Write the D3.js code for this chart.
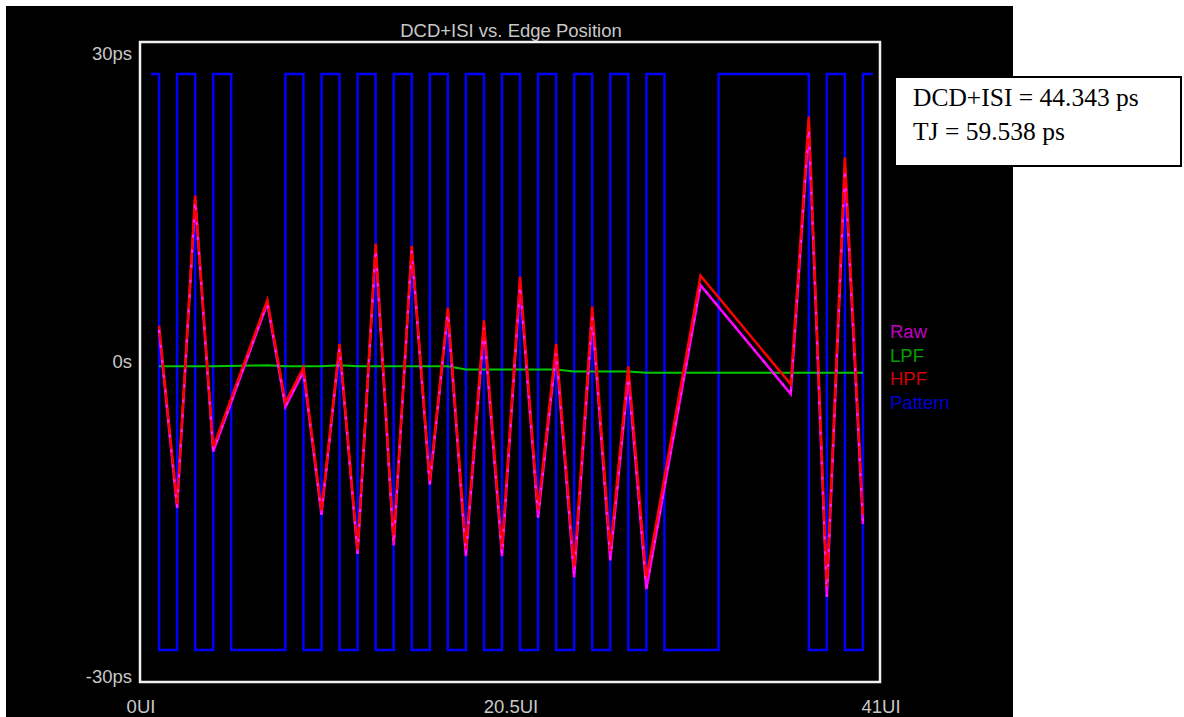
<!DOCTYPE html>
<html>
<head>
<meta charset="utf-8">
<script src="https://cdn.jsdelivr.net/npm/d3@7"></script>
<style>
  body { margin: 0; background: #ffffff; }
  svg { display: block; }
  text { font-family: "Liberation Sans", Arial, sans-serif; }
</style>
</head>
<body>
<div id="content"></div>
<script>
var width = 1184;
var height = 717;

// edge positions (UI) where the jitter points sit
var edgeUI = [1, 2, 3, 4, 7, 8, 9, 10, 11, 12, 13, 14, 15, 16, 17, 18, 19, 20,
              21, 22, 23, 24, 25, 26, 27, 28, 31, 36, 37, 38, 39, 40];
// DCD+ISI values in ps
var rawPs = [3.0, -13.7, 15.2, -8.4, 5.5, -4.2, -0.9, -14.3, 1.4, -18.0, 10.7, -17.2,
             10.5, -11.5, 4.7, -18.2, 3.2, -18.2, 7.3, -14.6, 1.0, -20.2, 4.3, -18.6,
             -1.3, -21.3, 7.2, -3.0, 22.0, -22.0, 18.2, -15.2];
var lpfPs = [-0.4, -0.4, -0.4, -0.4, -0.3, -0.4, -0.4, -0.4, -0.3, -0.4, -0.4, -0.4,
             -0.4, -0.4, -0.4, -0.7, -0.7, -0.7, -0.7, -0.7, -0.7, -0.9, -0.9, -0.9,
             -0.9, -1.0, -1.0, -1.0, -1.0, -1.0, -1.0, -1.0];
var hpfPs = [3.4, -13.3, 15.6, -8.0, 5.8, -3.8, -0.5, -13.9, 1.7, -17.6, 11.1, -16.8,
             10.9, -11.1, 5.1, -17.5, 3.9, -17.5, 8.0, -13.9, 1.7, -19.3, 5.2, -17.7,
             -0.4, -20.3, 8.1, -2.1, 23.0, -21.0, 19.2, -14.3];

// bit pattern: starts high, toggles at every edge
var patternStart = 0.55;
var patternEnd = 40.55;
var patternEdges = [1, 2, 3, 4, 5, 8, 9, 10, 11, 12, 13, 14, 15, 16, 17, 18, 19, 20,
                    21, 22, 23, 24, 25, 26, 27, 28, 29, 32, 37, 38, 39, 40];
var patternHigh = 27;
var patternLow = -27;

var xTicks = [0, 20.5, 41];
var xTickLabels = ["0UI", "20.5UI", "41UI"];
var yTicks = [30, 0, -30];
var yTickLabels = ["30ps", "0s", "-30ps"];

var legendNames = ["Raw", "LPF", "HPF", "Pattern"];
var legendColors = ["#c000c0", "#00a000", "#d00000", "#0000d0"];

var boxLines = ["DCD+ISI = 44.343 ps", "TJ = 59.538 ps"];

// plot frame (note: "top" is reserved on window, so prefixed names)
var plotLeft = 140, plotRight = 880, plotTop = 42, plotBottom = 682;

var x = d3.scaleLinear().domain([0, 41]).range([plotLeft + 1, plotRight + 1]);
var y = d3.scaleLinear().domain([-30, 30]).range([plotBottom, plotTop]);

var svg = d3.select('#content')
  .append('svg')
  .attr('width', width)
  .attr('height', height);

// black scope background
svg.append('rect')
  .attr('x', 6).attr('y', 6)
  .attr('width', 1007).attr('height', 711)
  .style('fill', '#000000');

// title
svg.append('text')
  .attr('x', (plotLeft + plotRight) / 2 + 1)
  .attr('y', 37)
  .attr('text-anchor', 'middle')
  .style('font-size', '18.5px')
  .style('fill', '#c8c8c8')
  .text('DCD+ISI vs. Edge Position');

// pattern as a step line
var patternPts = [[patternStart, patternHigh]];
var level = patternHigh;
patternEdges.forEach(function(e) {
  level = (level == patternHigh) ? patternLow : patternHigh;
  patternPts.push([e, level]);
});
patternPts.push([patternEnd, level]);

var stepLine = d3.line()
  .x(function(d) { return x(d[0]); })
  .y(function(d) { return y(d[1]); })
  .curve(d3.curveStepAfter);

svg.append('path')
  .datum(patternPts)
  .attr('d', stepLine)
  .style('fill', 'none')
  .style('stroke', '#0000ff')
  .style('stroke-width', 2.5);

var line = d3.line()
  .x(function(d) { return x(d[0]); })
  .y(function(d) { return y(d[1]); });

function pts(vals) {
  return edgeUI.map(function(u, i) { return [u, vals[i]]; });
}

// LPF
svg.append('path')
  .datum(pts(lpfPs))
  .attr('d', line)
  .style('fill', 'none')
  .style('stroke', '#00c800')
  .style('stroke-width', 2);

// Raw underneath, HPF on top, then raw dots peeking through
svg.append('path')
  .datum(pts(rawPs))
  .attr('d', line)
  .style('fill', 'none')
  .style('stroke', '#ff00ff')
  .style('stroke-width', 2.5);

svg.append('path')
  .datum(pts(hpfPs))
  .attr('d', line)
  .style('fill', 'none')
  .style('stroke', '#ff0000')
  .style('stroke-width', 2.5);

svg.append('path')
  .datum(pts(rawPs))
  .attr('d', line)
  .style('fill', 'none')
  .style('stroke', '#ff20ff')
  .style('stroke-width', 2)
  .style('stroke-dasharray', '3 12');

// frame
svg.append('rect')
  .attr('x', plotLeft).attr('y', plotTop)
  .attr('width', plotRight - plotLeft).attr('height', plotBottom - plotTop)
  .style('fill', 'none')
  .style('stroke', '#f0f0f0')
  .style('stroke-width', 2.5);

// y labels (kept inside frame height like the scope does)
svg.selectAll('text.ylab')
  .data(yTicks)
  .enter()
  .append('text')
  .attr('class', 'ylab')
  .attr('x', 132)
  .attr('y', function(d) {
    var p = y(d);
    return Math.min(Math.max(p, plotTop + 12), plotBottom - 5) + 6;
  })
  .attr('text-anchor', 'end')
  .style('font-size', '18.5px')
  .style('fill', '#c8c8c8')
  .text(function(d, i) { return yTickLabels[i]; });

// x labels
svg.selectAll('text.xlab')
  .data(xTicks)
  .enter()
  .append('text')
  .attr('class', 'xlab')
  .attr('x', function(d) { return x(d); })
  .attr('y', 713)
  .attr('text-anchor', 'middle')
  .style('font-size', '18.5px')
  .style('fill', '#c8c8c8')
  .text(function(d, i) { return xTickLabels[i]; });

// legend
svg.selectAll('text.leg')
  .data(legendNames)
  .enter()
  .append('text')
  .attr('class', 'leg')
  .attr('x', 890)
  .attr('y', function(d, i) { return 338 + i * 23.5; })
  .style('font-size', '18.5px')
  .style('fill', function(d, i) { return legendColors[i]; })
  .text(function(d) { return d; });

// result box
svg.append('rect')
  .attr('x', 895).attr('y', 77)
  .attr('width', 286).attr('height', 89)
  .style('fill', '#ffffff')
  .style('stroke', '#000000')
  .style('stroke-width', 2);

svg.selectAll('text.box')
  .data(boxLines)
  .enter()
  .append('text')
  .attr('class', 'box')
  .attr('x', 913)
  .attr('y', function(d, i) { return 106 + i * 34; })
  .style('font-family', '"Liberation Serif", "Times New Roman", serif')
  .style('font-size', '25.5px')
  .style('fill', '#000000')
  .text(function(d) { return d; });
</script>
</body>
</html>
